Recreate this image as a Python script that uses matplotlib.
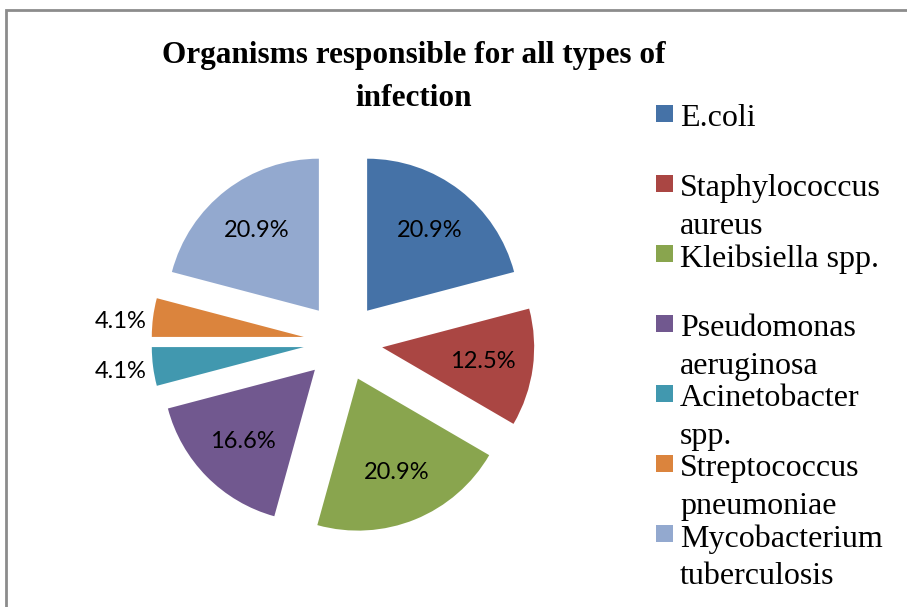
import math
import matplotlib.pyplot as plt
from matplotlib.patches import Rectangle

organisms = ["E.coli", "Staphylococcus\naureus", "Kleibsiella spp.", "Pseudomonas\naeruginosa",
             "Acinetobacter\nspp.", "Streptococcus\npneumoniae", "Mycobacterium\ntuberculosis"]
shares = [20.9, 12.5, 20.9, 16.6, 4.1, 4.1, 20.9]
colors = ["#4572A7", "#AA4643", "#89A54E", "#71588F", "#4198AF", "#DB843D", "#93A9CF"]

W, H = 907, 607
fig = plt.figure(figsize=(W / 100, H / 100), dpi=100)


def fx(x):
    return x / W


def fy(y):
    return 1 - y / H


# pie laid out in units of its radius, centre at pixel (343, 342), radius 152 px
cx, cy, r = 343, 342, 152
ax = fig.add_axes([0, 0, 1, 1])
wedges, texts, autotexts = ax.pie(shares, colors=colors, startangle=90, counterclock=False,
                                  explode=[0.26] * len(shares), autopct="%.1f%%",
                                  pctdistance=0.67,
                                  textprops=dict(family="Lato", fontsize=17, color="black"),
                                  wedgeprops=dict(linewidth=0))
ax.set_aspect("equal")
ax.set_xlim(-cx / r, (W - cx) / r)
ax.set_ylim(-(H - cy) / r, cy / r)
ax.axis("off")

# small slices get their labels outside, like the original
for w, t, v in zip(wedges, autotexts, shares):
    if v < 5:
        mid = math.radians((w.theta1 + w.theta2) / 2)
        x0, y0 = w.center
        t.set_position((x0 + 1.04 * math.cos(mid), y0 + 1.0 * math.sin(mid) - 0.03))
        t.set_ha("right")

fig.text(fx(414), fy(41), "Organisms responsible for all types of\ninfection",
         ha="center", va="top", family="Liberation Serif", fontweight="bold",
         fontsize=22.5, linespacing=1.65)

# legend
for i, (name, col) in enumerate(zip(organisms, colors)):
    ytop = 105 + i * 70
    fig.add_artist(Rectangle((fx(656), fy(ytop + 17)), 17 / W, 17 / H,
                             transform=fig.transFigure, color=col, lw=0))
    fig.text(fx(680), fy(ytop - 1), name, ha="left", va="top",
             family="Liberation Serif", fontsize=23, linespacing=1.4)

# chart border (cut off on the right and bottom)
fig.add_artist(Rectangle((fx(6), fy(H + 10)), (W + 10) / W, (H) / H,
                         transform=fig.transFigure, fill=False, ec="#8c8c8c", lw=2))

fig.savefig("out.png", dpi=100)
